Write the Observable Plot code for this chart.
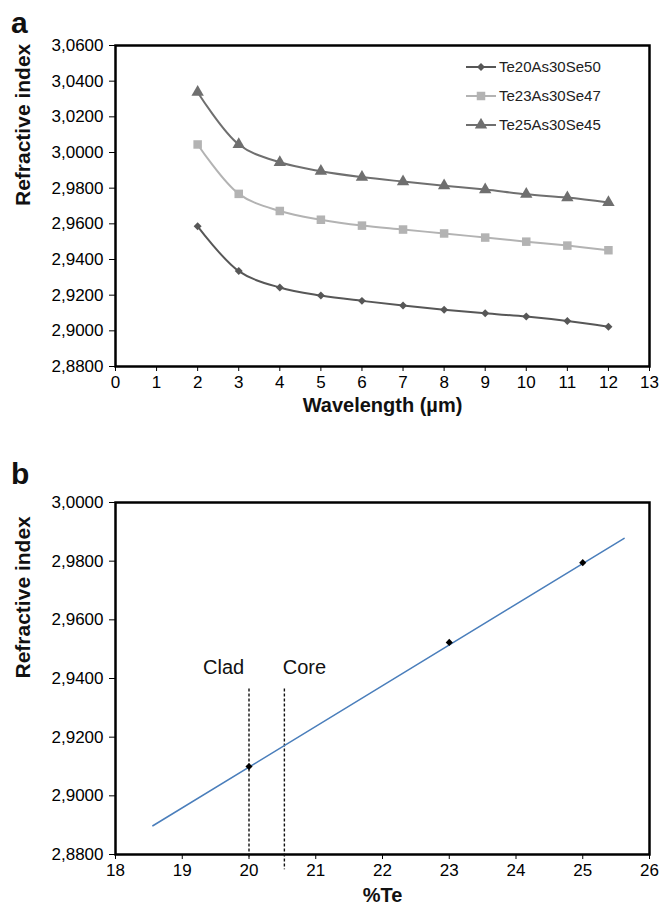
<!DOCTYPE html>
<html>
<head>
<meta charset="utf-8">
<script src="https://cdn.jsdelivr.net/npm/d3@7"></script>
<script src="https://cdn.jsdelivr.net/npm/@observablehq/plot@0.6"></script>
<style>
  body { margin: 0; background: #fff; font-family: "Liberation Sans", Arial, sans-serif; }
  #wrap { position: relative; width: 664px; }
  #wrap svg.plotsvg { display: block; }
  .letter { position: absolute; font-weight: bold; font-size: 30px; color: #111; line-height: 1; z-index: 5; }
  #legend { position: absolute; left: 466px; top: 52px; font-size: 15px; color: #222; z-index: 5; }
  #legend .row { display: flex; align-items: center; height: 29px; }
  #legend svg { margin-right: 3px; }
  #gap { height: 10px; }
</style>
</head>
<body>
<div id="wrap">
  <div class="letter" id="la" style="left:11px; top:8px;">a</div>
  <div class="letter" id="lb" style="left:11px; top:459px;">b</div>
  <div id="legend"></div>
  <div id="pa"></div>
  <div id="gap"></div>
  <div id="pb"></div>
</div>
<script>
// ---------- Panel a data ----------
const wavelength = [2, 3, 4, 5, 6, 7, 8, 9, 10, 11, 12];
const te20 = [2.9586, 2.9335, 2.9243, 2.9198, 2.9168, 2.9142, 2.9118, 2.9098, 2.9080, 2.9055, 2.9023];
const te23 = [3.0045, 2.9768, 2.9672, 2.9623, 2.9590, 2.9568, 2.9546, 2.9523, 2.9500, 2.9478, 2.9452];
const te25 = [3.0338, 3.0045, 2.9945, 2.9895, 2.9862, 2.9837, 2.9814, 2.9792, 2.9766, 2.9747, 2.9720];
const seriesNames = ["Te20As30Se50", "Te23As30Se47", "Te25As30Se45"];
const seriesColors = ["#575757", "#b3b3b3", "#6f6f6f"];
const seriesSymbols = ["diamond2", "square", "triangle"];
const seriesR = [3.6, 4.8, 4.6];
const yDomainA = [2.88, 3.06];
const xDomainA = [0, 13];
const yTicksA = [2.88, 2.90, 2.92, 2.94, 2.96, 2.98, 3.00, 3.02, 3.04, 3.06];
const xTicksA = [0, 1, 2, 3, 4, 5, 6, 7, 8, 9, 10, 11, 12, 13];

// ---------- Panel b data ----------
const teContent = [20, 23, 25];
const teIndex = [2.9100, 2.9523, 2.9795];
const fitX = [18.56, 25.62];
const fitY = [2.8898, 2.9878];
const markerNames = ["Clad", "Core"];
const markerX = [20.0, 20.53];
const markerTop = [2.9364, 2.9364];
const markerBottom = [2.8790, 2.8748];
const markerLabelX = [19.62, 20.83];
const markerLabelY = 2.9438;
const yDomainB = [2.88, 3.00];
const xDomainB = [18, 26];
const yTicksB = [2.88, 2.90, 2.92, 2.94, 2.96, 2.98, 3.00];
const xTicksB = [18, 19, 20, 21, 22, 23, 24, 25, 26];

const fmt = d => d.toFixed(4).replace(".", ",");

// ---------- Panel a ----------
const valuesA = [te20, te23, te25];
const rowsA = [];
seriesNames.forEach((s, i) => wavelength.forEach((w, j) => rowsA.push({series: s, x: w, y: valuesA[i][j], k: i})));

const marksA = [
  Plot.frame({stroke: "black", strokeWidth: 2.5}),
  Plot.axisY({ticks: yTicksA, tickFormat: fmt, tickSize: 6, tickPadding: 6, label: null, fontSize: 17}),
  Plot.axisX({ticks: xTicksA, tickSize: 5, tickPadding: 4, label: null, fontSize: 17}),
  Plot.text(["Refractive index"], {text: d => d, frameAnchor: "left", rotate: -90, dx: -92, fontSize: 21, fontWeight: "bold", fill: "#111"}),
  Plot.text(["Wavelength (\u00b5m)"], {text: d => d, frameAnchor: "bottom", dy: 45, fontSize: 20, fontWeight: "bold", fill: "#111"})
];
seriesNames.forEach((s, i) => {
  const data = rowsA.filter(d => d.k === i);
  marksA.push(Plot.line(data, {x: "x", y: "y", stroke: seriesColors[i], strokeWidth: 2, curve: "catmull-rom"}));
  marksA.push(Plot.dot(data, {x: "x", y: "y", symbol: () => seriesSymbols[i], fill: seriesColors[i], stroke: "none", r: seriesR[i]}));
});

const chartA = Plot.plot({
  width: 664, height: 430,
  marginLeft: 115, marginRight: 15, marginTop: 45, marginBottom: 64,
  x: {domain: xDomainA},
  y: {domain: yDomainA},
  symbol: {type: "identity"},
  style: {fontFamily: "Liberation Sans, Arial, sans-serif"},
  marks: marksA
});
chartA.classList.add("plotsvg");
document.getElementById("pa").appendChild(chartA);

// legend
const legend = document.getElementById("legend");
seriesNames.forEach((s, i) => {
  const row = document.createElement("div");
  row.className = "row";
  const type = seriesSymbols[i] === "diamond2" ? d3.symbolDiamond2 : seriesSymbols[i] === "square" ? d3.symbolSquare : d3.symbolTriangle;
  const sym = d3.symbol(type, Math.PI * seriesR[i] * seriesR[i])();
  row.innerHTML = `<svg width="30" height="14"><line x1="0" x2="30" y1="7" y2="7" stroke="${seriesColors[i]}" stroke-width="2"/><path transform="translate(15,7)" d="${sym}" fill="${seriesColors[i]}"/></svg><span>${s}</span>`;
  legend.appendChild(row);
});

// ---------- Panel b ----------
const pts = teContent.map((t, i) => ({x: t, y: teIndex[i]}));
const fit = fitX.map((x, i) => ({x, y: fitY[i]}));
const guides = markerNames.map((n, i) => ({name: n, x: markerX[i], y1: markerTop[i], y2: markerBottom[i], lx: markerLabelX[i], ly: markerLabelY}));

const chartB = Plot.plot({
  width: 664, height: 470,
  marginLeft: 115, marginRight: 15, marginTop: 62, marginBottom: 56,
  x: {domain: xDomainB},
  y: {domain: yDomainB},
  style: {fontFamily: "Liberation Sans, Arial, sans-serif"},
  marks: [
    Plot.frame({stroke: "black", strokeWidth: 2.5}),
    Plot.axisY({ticks: yTicksB, tickFormat: fmt, tickSize: 6, tickPadding: 6, label: null, fontSize: 17}),
    Plot.axisX({ticks: xTicksB, tickSize: 5, tickPadding: 4, label: null, fontSize: 17}),
    Plot.text(["Refractive index"], {text: d => d, frameAnchor: "left", rotate: -90, dx: -92, fontSize: 21, fontWeight: "bold", fill: "#111"}),
    Plot.text(["%Te"], {text: d => d, frameAnchor: "bottom", dy: 47, fontSize: 20, fontWeight: "bold", fill: "#111"}),
    Plot.ruleX(guides, {x: "x", y1: "y1", y2: "y2", stroke: "#111", strokeWidth: 1.4, strokeDasharray: "3,2"}),
    Plot.text(guides, {x: "lx", y: "ly", text: "name", fontSize: 20, fill: "#111"}),
    Plot.line(fit, {x: "x", y: "y", stroke: "#4a7ebb", strokeWidth: 1.5}),
    Plot.dot(pts, {x: "x", y: "y", symbol: "diamond2", fill: "#000", r: 3.2})
  ]
});
chartB.classList.add("plotsvg");
document.getElementById("pb").appendChild(chartB);
</script>
</body>
</html>
